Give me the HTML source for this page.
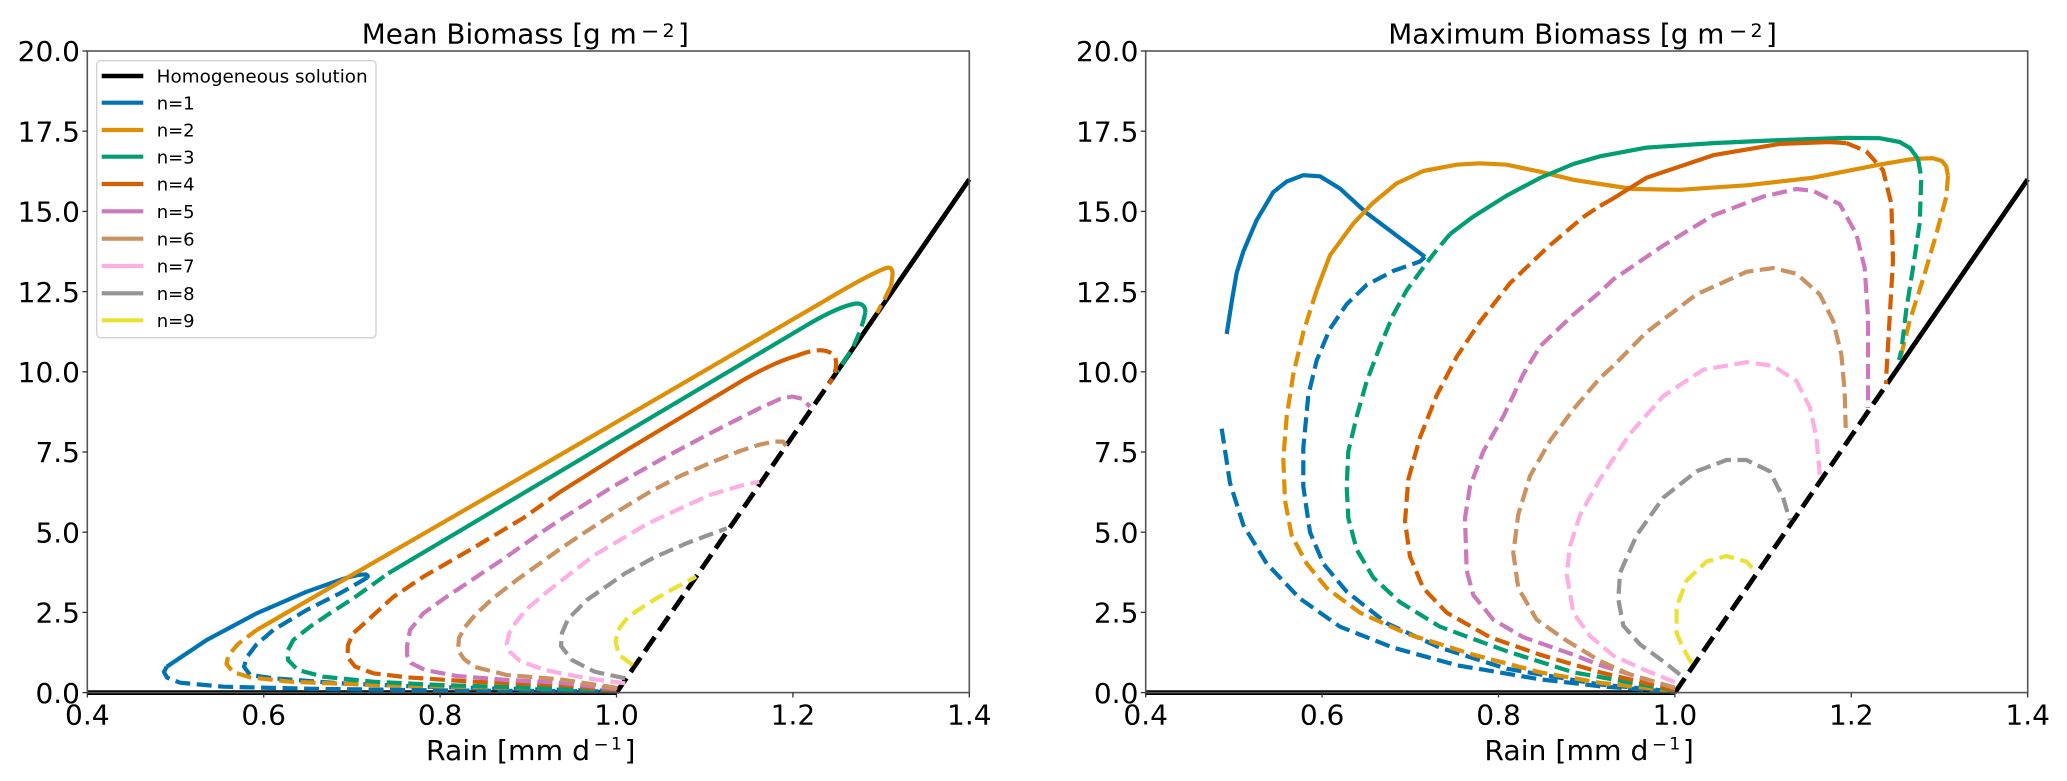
<!DOCTYPE html>
<html>
<head>
<meta charset="utf-8">
<style>
  html, body { margin: 0; padding: 0; background: #ffffff; }
  svg { display: block; }
  text { font-family: "DejaVu Sans", "Liberation Sans", sans-serif; fill: #000; }
  .tk { font-size: 28px; }
  .c { fill: none; stroke-width: 4.2; stroke-linejoin: round; stroke-linecap: butt; }
  .d { stroke-dasharray: 15 6.5; }
  .k { fill: none; stroke: #000; stroke-width: 4.8; stroke-linejoin: round; }
  .kd { stroke-dasharray: 17.5 7.5; }
  .b1 { stroke: #0173b2; } .b2 { stroke: #de8f05; } .b3 { stroke: #029e73; }
  .b4 { stroke: #d55e00; } .b5 { stroke: #cc78bc; } .b6 { stroke: #ca9161; }
  .b7 { stroke: #fbafe4; } .b8 { stroke: #949494; } .b9 { stroke: #ece133; }
  .tick { stroke: #333; stroke-width: 1.3; }
  .spine { fill: none; stroke: #555; stroke-width: 1.6; }
  .leg { font-size: 18px; }
</style>
</head>
<body>
<svg width="2067" height="781" viewBox="0 0 2067 781" xmlns="http://www.w3.org/2000/svg">
<rect x="0" y="0" width="2067" height="781" fill="#ffffff"/>

<!-- ================= LEFT PLOT ================= -->
<polyline class="k" points="87.3,692.6 616.5,692.6"/>
<polyline class="k kd" points="616.5,692.6 837,371.8"/>
<polyline class="k" points="837,371.8 969.3,179.3"/>

<!-- n=1 -->
<path class="c b1" d="M166.7,666.7 L206.7,640 L256.7,613.3 L306.7,591.7 L340,580 Q358,574 366,574.5 Q369,576 367,577.5"/>
<polyline class="c d b1" points="367,577.5 363.3,580 340,593.3 306.7,610 273.3,630 256,645 247,657 244,666.7 250,675 273.3,678.3 340,683.3 423.3,686.7 520,689 616.5,691"/>
<polyline class="c d b1" points="166.7,666.7 164,672 167,677.5 180,682.7 223.3,686.7 306.7,688.7 450,690.5 616.5,691.5"/>

<!-- n=2 -->
<polyline class="c d b2" points="616.5,690 373.3,685 290,681.7 250,677.3 233,672 226.5,664 228.3,655.7 238,644 256.7,630"/>
<path class="c b2" d="M256.7,630 L560,455 L826,300 Q868,275 886,268 Q893,266 892.5,275 L891,286"/>
<polyline class="c d b2" points="891,286 885,298 877,313"/>

<!-- n=3 -->
<polyline class="c d b3" points="616.5,690.5 440,685 373.3,681.7 323.3,676.7 298,670 288,660 287.5,651 293.3,640 310,626.7 330,613.3 353.3,598.3 376.7,581.7 388.3,573.3"/>
<path class="c b3" d="M388.3,573.3 L810,323.3 Q840,306 856,303.5 Q865,303 865.5,312"/>
<polyline class="c d b3" points="865.5,312 863.3,321 860,331 853.3,346.7 845,360 837,372"/>

<!-- n=4 -->
<polyline class="c d b4" points="616.5,690 560,685 473.3,681.7 406.7,677.3 373.3,673.3 355,666.5 347.5,657 348,645 353.3,633.3 368,620 393.3,597 423.3,576.7 473.3,548 523.3,518 560,492"/>
<path class="c b4" d="M560,492 L626.7,450 L693.3,410 L743.3,380 Q775,362 796,356"/>
<path class="c d b4" d="M796,356 Q826,344 835,357 Q839,369 829,384"/>

<!-- n=5 -->
<polyline class="c d b5" points="616.5,689 560,682.7 506.7,680 456.7,676 425,670 411,663 407,655 407,646.7 410,630 423.3,613.3 446.7,596.7 473.3,579 506.7,556.7 540,533.3 560,520 610,488.3 660,460 710,433.3 760,408 780,399 792,396.5 803,399 810,406.7"/>

<!-- n=6 -->
<polyline class="c d b6" points="617.5,688 560,679.3 506.7,675 475,667 464,659 458,650 459,638 465,627 476,614 493.3,598 516.7,580 540,563.3 560,549 580,535.5 610,516 648,493 680,476 710,463 740,451 760,444.5 775,441.5 783.3,441.7 786,446"/>

<!-- n=7 -->
<polyline class="c d b7" points="625.2,683.3 586.9,678.3 544.7,670 520,661 510,652 506.7,644 509,634 516,622 528,608 548,591 594.6,555 648.2,523.3 709.5,495 740,486 759.3,481.7"/>

<!-- n=8 -->
<polyline class="c d b8" points="625.2,678.3 594.6,671.7 572,660 561,646 562,633 568,619 586.9,600 625.2,573.3 655,557 686.5,543.3 726.7,528.3"/>

<!-- n=9 -->
<polyline class="c d b9" points="632.9,665 619,655 615.6,642 618,630 628,617 648.2,603.3 671.2,590 696.1,576.7"/>

<!-- Left axes frame -->
<rect class="spine" x="87.3" y="51" width="882" height="641.6"/>
<g class="tick">
  <line x1="87.3" y1="692.6" x2="87.3" y2="697.5"/>
  <line x1="263.7" y1="692.6" x2="263.7" y2="697.5"/>
  <line x1="440.1" y1="692.6" x2="440.1" y2="697.5"/>
  <line x1="616.5" y1="692.6" x2="616.5" y2="697.5"/>
  <line x1="792.9" y1="692.6" x2="792.9" y2="697.5"/>
  <line x1="969.3" y1="692.6" x2="969.3" y2="697.5"/>
  <line x1="82.4" y1="692.6" x2="87.3" y2="692.6"/>
  <line x1="82.4" y1="612.4" x2="87.3" y2="612.4"/>
  <line x1="82.4" y1="532.2" x2="87.3" y2="532.2"/>
  <line x1="82.4" y1="452.0" x2="87.3" y2="452.0"/>
  <line x1="82.4" y1="371.8" x2="87.3" y2="371.8"/>
  <line x1="82.4" y1="291.6" x2="87.3" y2="291.6"/>
  <line x1="82.4" y1="211.4" x2="87.3" y2="211.4"/>
  <line x1="82.4" y1="131.2" x2="87.3" y2="131.2"/>
  <line x1="82.4" y1="51.0" x2="87.3" y2="51.0"/>
</g>
<g class="tk" text-anchor="middle">
  <text x="87.3" y="724.3">0.4</text>
  <text x="263.7" y="724.3">0.6</text>
  <text x="440.1" y="724.3">0.8</text>
  <text x="616.5" y="724.3">1.0</text>
  <text x="792.9" y="724.3">1.2</text>
  <text x="969.3" y="724.3">1.4</text>
</g>
<g class="tk" text-anchor="end">
  <text x="80" y="702.8">0.0</text>
  <text x="80" y="622.6">2.5</text>
  <text x="80" y="542.4">5.0</text>
  <text x="80" y="462.2">7.5</text>
  <text x="80" y="382.0">10.0</text>
  <text x="80" y="301.8">12.5</text>
  <text x="80" y="221.6">15.0</text>
  <text x="80" y="141.4">17.5</text>
  <text x="80" y="61.2">20.0</text>
</g>
<!-- Left title -->
<text x="361.7" y="43.3" font-size="28" textLength="275" lengthAdjust="spacingAndGlyphs">Mean Biomass [g m</text>
<text x="641" y="38.5" font-size="22">−</text>
<text x="662.5" y="37" font-size="19">2</text>
<text x="678" y="43.3" font-size="28">]</text>
<!-- Left x label -->
<text x="426" y="760" font-size="28" textLength="164" lengthAdjust="spacingAndGlyphs">Rain [mm d</text>
<text x="593.5" y="750.5" font-size="18">−</text>
<text x="611" y="749.3" font-size="17">1</text>
<text x="624.5" y="760" font-size="28">]</text>

<!-- Legend -->
<rect x="96.7" y="60.7" width="279.3" height="277" rx="4" ry="4" fill="#ffffff" fill-opacity="0.9" stroke="#d0d0d0" stroke-width="1.3"/>
<line x1="101.7" y1="76" x2="143.3" y2="76" stroke="#000" stroke-width="4.6"/>
<line x1="101.7" y1="102.7" x2="143.3" y2="102.7" stroke="#0173b2" stroke-width="4.2"/>
<line x1="101.7" y1="130" x2="143.3" y2="130" stroke="#de8f05" stroke-width="4.2"/>
<line x1="101.7" y1="156.7" x2="143.3" y2="156.7" stroke="#029e73" stroke-width="4.2"/>
<line x1="101.7" y1="184" x2="143.3" y2="184" stroke="#d55e00" stroke-width="4.2"/>
<line x1="101.7" y1="211.3" x2="143.3" y2="211.3" stroke="#cc78bc" stroke-width="4.2"/>
<line x1="101.7" y1="238.7" x2="143.3" y2="238.7" stroke="#ca9161" stroke-width="4.2"/>
<line x1="101.7" y1="266" x2="143.3" y2="266" stroke="#fbafe4" stroke-width="4.2"/>
<line x1="101.7" y1="293.3" x2="143.3" y2="293.3" stroke="#949494" stroke-width="4.2"/>
<line x1="101.7" y1="320.3" x2="143.3" y2="320.3" stroke="#ece133" stroke-width="4.2"/>
<g class="leg">
  <text x="156.7" y="82.7" textLength="211" lengthAdjust="spacingAndGlyphs">Homogeneous solution</text>
  <text x="156.7" y="109.4">n=1</text>
  <text x="156.7" y="136.7">n=2</text>
  <text x="156.7" y="163.4">n=3</text>
  <text x="156.7" y="190.7">n=4</text>
  <text x="156.7" y="218.0">n=5</text>
  <text x="156.7" y="245.4">n=6</text>
  <text x="156.7" y="272.7">n=7</text>
  <text x="156.7" y="300.0">n=8</text>
  <text x="156.7" y="327.0">n=9</text>
</g>

<!-- ================= RIGHT PLOT ================= -->
<polyline class="k" points="1145.7,692.6 1674.9,692.6"/>
<polyline class="k kd" points="1674.9,692.6 1895.4,371.8"/>
<polyline class="k" points="1895.4,371.8 2027.7,179.3"/>

<!-- n=1 -->
<polyline class="c b1" points="1226.7,334 1232,300 1236.7,272.7 1243.3,251.6 1256.7,220.1 1273.3,192.1 1286.7,181.5 1303.3,175.2 1320,176.3 1340,188.6 1366.7,213.1 1390,230.6 1413.3,248.1 1425,256.9"/>
<polyline class="c d b1" points="1425,256.9 1420,261.5 1393.3,270.9 1366.7,284.9 1346.7,304.2 1330,328.8 1316.7,360.3 1308.3,395.4 1303.3,447.9 1303.3,486.5 1310,532.1 1323.3,563.6 1346.7,591.6 1386.7,623.2 1440,647.7 1506.7,668.7 1600,684.5 1674.9,691.5"/>
<polyline class="c d b1" points="1221.7,428.7 1230,483 1243.3,525 1266.7,563.6 1300,598.6 1340,626.7 1393.3,647.7 1456.7,665.2 1540,679.3 1600,686.3 1674.9,692"/>

<!-- n=2 -->
<polyline class="c d b2" points="1674.9,691 1600,682.8 1540,672.3 1473.3,654.7 1406.7,633.7 1360,612.7 1326.7,588.1 1306.7,563.6 1291.7,535.6 1285,500.5 1283.3,458.4 1286.7,416.4 1293.3,374.3 1303.3,332.3 1316.7,290.2"/>
<polyline class="c b2" points="1316.7,290.2 1330,255.2 1353.3,223.6 1373.3,202.6 1396.7,183.3 1423.3,171 1456.7,164.7 1480,163.3 1506.7,164.7 1540,171.7 1573.3,179.8 1600,184 1633.3,189 1679.9,189.8 1746.5,185.3 1813.1,177.7 1879.7,164.6 1913,158.9 1933,158.2 1942,161 1946.3,166.5 1948,175.9"/>
<polyline class="c d b2" points="1948,175.9 1946.3,196.6 1936.3,234.2 1923,279.4 1909.7,320.8 1901.3,354.6 1899,362"/>

<!-- n=3 -->
<polyline class="c d b3" points="1674.9,690.5 1573.3,672.3 1506.7,651.2 1440,626.7 1400,602.2 1373.3,577.6 1356.7,549.6 1348.3,518 1346.7,486.5 1348.3,451.4 1356.7,416.4 1366.7,381.3 1380,346.3 1393.3,314.7 1406.7,290.2 1423.3,267.4 1436.7,249.9 1450,234.1"/>
<polyline class="c b3" points="1450,234.1 1473.3,216.6 1506.7,195.6 1540,178 1573.3,164 1600,156.3 1646.6,147.6 1713.2,143.1 1779.8,140.1 1846.4,137.9 1879.7,138.2 1899.7,142 1910,148 1918,158.9"/>
<polyline class="c d b3" points="1918,158.9 1921.3,177.7 1919.7,222.9 1913,268.1 1906.3,309.5 1901.3,350.9 1899,360"/>

<!-- n=4 -->
<polyline class="c d b4" points="1674.9,690 1600,672.3 1540,654.7 1490,637.2 1446.7,612.7 1423.3,588.1 1410,556.6 1405,521.5 1408.3,479.5 1420,437.4 1436.7,395.4 1456.7,356.8 1480,321.7 1510,283.2 1546.7,248.1 1583.3,217 1600,206"/>
<polyline class="c b4" points="1600,206 1613.3,198.4 1646.6,177.7 1713.2,155.2 1779.8,143.9 1829.7,142 1846.4,143.1"/>
<polyline class="c d b4" points="1846.4,143.1 1866.4,151.4 1883,170.2 1891.4,204.1 1893,260.5 1889.7,317 1886.4,373.5 1886,384"/>

<!-- n=5 -->
<polyline class="c d b5" points="1674.9,688 1600,665.2 1573.3,654.7 1523.3,637.2 1493.3,619.7 1473.3,595.1 1466.7,570.6 1465,518 1470,486.5 1483.3,451.4 1503.3,416.4 1523.3,374.3 1540,346.3 1573.3,314.7 1600,292 1613.3,279.4 1663.3,245.5 1713.2,215.4 1763.1,196.6 1796.5,189 1813.1,190.9 1839.7,204.1 1856.4,234.2 1864.7,268.1 1868,317 1868,373.5 1868,408"/>

<!-- n=6 -->
<polyline class="c d b6" points="1675,687.7 1630,674.5 1600,661 1566.7,640.7 1536.7,619.7 1518.3,588.1 1513.3,553.1 1518.3,514.5 1530,476 1550,440.9 1573.3,409.4 1600,378 1613.3,365.9 1646.6,332.1 1696.5,294.4 1746.5,271.8 1773.1,268.1 1796.5,273.7 1819.8,294.4 1833.1,320.8 1841.4,354.6 1844.7,392.3 1845.7,428"/>

<!-- n=7 -->
<polyline class="c d b7" points="1674.9,682.1 1646.6,670.8 1613.3,655.7 1590,636 1573.3,612.7 1566.7,574.1 1570,546.1 1580,515 1600,479 1630,433.7 1663.3,396 1703.2,369.7 1746.5,362.2 1773.1,365.9 1796.5,381 1809.8,407.3 1816.4,437.4 1819.8,475"/>

<!-- n=8 -->
<polyline class="c d b8" points="1679.9,674.5 1663.3,661.4 1640,644.4 1623.3,625.6 1618.3,599.3 1620,572.9 1636.6,535.3 1663.3,497.6 1696.5,471.3 1726.5,460 1746.5,460 1769.8,471.3 1783.1,497.6 1789.8,520.2"/>

<!-- n=9 -->
<polyline class="c d b9" points="1691.6,663.2 1683.2,648.2 1676.6,633.1 1676.6,606.8 1686.6,580.5 1706.5,561.6 1726.5,556 1746.5,561.6 1756.5,572.9"/>

<!-- Right axes frame -->
<rect class="spine" x="1145.7" y="51" width="882" height="641.6"/>
<g class="tick">
  <line x1="1145.7" y1="692.6" x2="1145.7" y2="697.5"/>
  <line x1="1322.1" y1="692.6" x2="1322.1" y2="697.5"/>
  <line x1="1498.5" y1="692.6" x2="1498.5" y2="697.5"/>
  <line x1="1674.9" y1="692.6" x2="1674.9" y2="697.5"/>
  <line x1="1851.3" y1="692.6" x2="1851.3" y2="697.5"/>
  <line x1="2027.7" y1="692.6" x2="2027.7" y2="697.5"/>
  <line x1="1140.8" y1="692.6" x2="1145.7" y2="692.6"/>
  <line x1="1140.8" y1="612.4" x2="1145.7" y2="612.4"/>
  <line x1="1140.8" y1="532.2" x2="1145.7" y2="532.2"/>
  <line x1="1140.8" y1="452.0" x2="1145.7" y2="452.0"/>
  <line x1="1140.8" y1="371.8" x2="1145.7" y2="371.8"/>
  <line x1="1140.8" y1="291.6" x2="1145.7" y2="291.6"/>
  <line x1="1140.8" y1="211.4" x2="1145.7" y2="211.4"/>
  <line x1="1140.8" y1="131.2" x2="1145.7" y2="131.2"/>
  <line x1="1140.8" y1="51.0" x2="1145.7" y2="51.0"/>
</g>
<g class="tk" text-anchor="middle">
  <text x="1145.7" y="724.3">0.4</text>
  <text x="1322.1" y="724.3">0.6</text>
  <text x="1498.5" y="724.3">0.8</text>
  <text x="1674.9" y="724.3">1.0</text>
  <text x="1851.3" y="724.3">1.2</text>
  <text x="2027.7" y="724.3">1.4</text>
</g>
<g class="tk" text-anchor="end">
  <text x="1138.4" y="702.8">0.0</text>
  <text x="1138.4" y="622.6">2.5</text>
  <text x="1138.4" y="542.4">5.0</text>
  <text x="1138.4" y="462.2">7.5</text>
  <text x="1138.4" y="382.0">10.0</text>
  <text x="1138.4" y="301.8">12.5</text>
  <text x="1138.4" y="221.6">15.0</text>
  <text x="1138.4" y="141.4">17.5</text>
  <text x="1138.4" y="61.2">20.0</text>
</g>
<!-- Right title -->
<text x="1388.3" y="43.3" font-size="28" textLength="336" lengthAdjust="spacingAndGlyphs">Maximum Biomass [g m</text>
<text x="1729" y="38.5" font-size="22">−</text>
<text x="1750.5" y="37" font-size="19">2</text>
<text x="1766" y="43.3" font-size="28">]</text>
<!-- Right x label -->
<text x="1484.4" y="760" font-size="28" textLength="164" lengthAdjust="spacingAndGlyphs">Rain [mm d</text>
<text x="1651.9" y="750.5" font-size="18">−</text>
<text x="1669.4" y="749.3" font-size="17">1</text>
<text x="1682.9" y="760" font-size="28">]</text>
</svg>
</body>
</html>
